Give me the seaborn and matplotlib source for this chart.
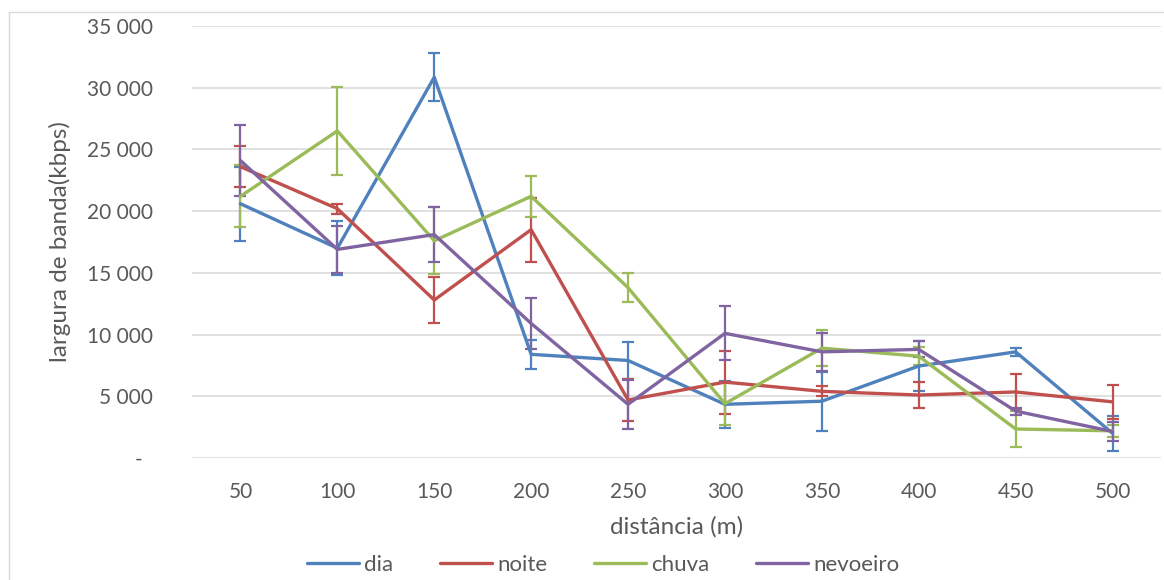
import matplotlib
matplotlib.use("Agg")
import matplotlib.pyplot as plt
import seaborn as sns
import pandas as pd
from matplotlib.ticker import FuncFormatter, MultipleLocator
from matplotlib.lines import Line2D

# ---- data ----
distances = [50, 100, 150, 200, 250, 300, 350, 400, 450, 500]
series_names = ["dia", "noite", "chuva", "nevoeiro"]
dia = [20600, 17000, 30850, 8400, 7900, 4350, 4600, 7450, 8600, 2000]
dia_err = [3000, 2200, 1950, 1150, 1500, 1900, 2400, 2050, 330, 1400]
noite = [23600, 20200, 12800, 18500, 4700, 6150, 5400, 5100, 5350, 4550]
noite_err = [1650, 400, 1850, 2600, 1700, 2550, 400, 1050, 1450, 1400]
chuva = [21200, 26500, 17600, 21200, 13800, 4400, 8900, 8250, 2350, 2200]
chuva_err = [2500, 3550, 2700, 1650, 1150, 1700, 1450, 750, 1450, 500]
nevoeiro = [24100, 16900, 18100, 10900, 4350, 10100, 8600, 8800, 3800, 2150]
nevoeiro_err = [2900, 1900, 2250, 2050, 2000, 2200, 1550, 650, 280, 750]
colors = ["#4F81BD", "#C0504D", "#9BBB59", "#8064A2"]
x_label = "distância (m)"
y_label = "largura de banda(kbps)"

values = {"dia": dia, "noite": noite, "chuva": chuva, "nevoeiro": nevoeiro}
errors = {"dia": dia_err, "noite": noite_err, "chuva": chuva_err, "nevoeiro": nevoeiro_err}

rows = []
for name in series_names:
    for d, v, e in zip(distances, values[name], errors[name]):
        rows.append({"distancia": d, "valor": v, "erro": e, "serie": name})
df = pd.DataFrame(rows)

sns.set_theme(style="white")
plt.rcParams["font.family"] = ["Lato", "DejaVu Sans"]

W, H = 1164, 580
fig = plt.figure(figsize=(W / 100, H / 100), dpi=100)
ax = fig.add_axes([192 / W, 1 - 458 / H, (1161 - 192) / W, (458 - 26) / H])

palette = dict(zip(series_names, colors))

# error bars
for name in series_names:
    sub = df[df["serie"] == name]
    ax.errorbar(sub["distancia"], sub["valor"], yerr=sub["erro"], fmt="none",
                ecolor=palette[name], elinewidth=1.6, capsize=4.2, capthick=1.6,
                zorder=3)

sns.lineplot(data=df, x="distancia", y="valor", hue="serie", hue_order=series_names,
             palette=palette, linewidth=2.4, ax=ax, legend=False, zorder=4,
             errorbar=None)

ax.set_xlim(25, 525)
ax.set_ylim(0, 35000)
ax.set_xticks(distances)
ax.set_xticklabels([str(d) for d in distances])
ax.yaxis.set_major_locator(MultipleLocator(5000))


def fmt(v, pos):
    if abs(v) < 1e-6:
        return "-  "
    return f"{int(v):,}".replace(",", " ")


ax.yaxis.set_major_formatter(FuncFormatter(fmt))
ax.grid(axis="y", color="#D9D9D9", linewidth=1.1)
ax.grid(axis="x", visible=False)
ax.set_axisbelow(True)
for s in ax.spines.values():
    s.set_visible(False)

ax.tick_params(axis="both", length=0, labelsize=15, colors="#595959")
ax.tick_params(axis="y", pad=28)
ax.tick_params(axis="x", pad=17)

ax.set_xlabel(x_label, fontsize=17.5, color="#595959")
ax.set_ylabel(y_label, fontsize=17.5, color="#595959")
ax.xaxis.set_label_coords(0.5, (458 - 527) / (458 - 26))
ax.yaxis.set_label_coords((60 - 192) / (1161 - 192), 0.5)
ax.xaxis.label.set_va("center")
ax.yaxis.label.set_va("center")

handles = [Line2D([0], [0], color=c, lw=2.4) for c in colors]
leg = fig.legend(handles, series_names, loc="center", bbox_to_anchor=(603 / W, 1 - 565 / H),
                 ncol=4, frameon=False, fontsize=16, handlelength=2.35,
                 handletextpad=0.22, columnspacing=2.1, labelcolor="#595959")

fig.add_artist(Line2D([9 / W, 1], [1 - 12 / H, 1 - 12 / H], transform=fig.transFigure,
                      color="#D9D9D9", lw=1.0))
fig.add_artist(Line2D([9 / W, 9 / W], [0, 1 - 12 / H], transform=fig.transFigure,
                      color="#D9D9D9", lw=1.0))

fig.savefig("out.png", dpi=100)
